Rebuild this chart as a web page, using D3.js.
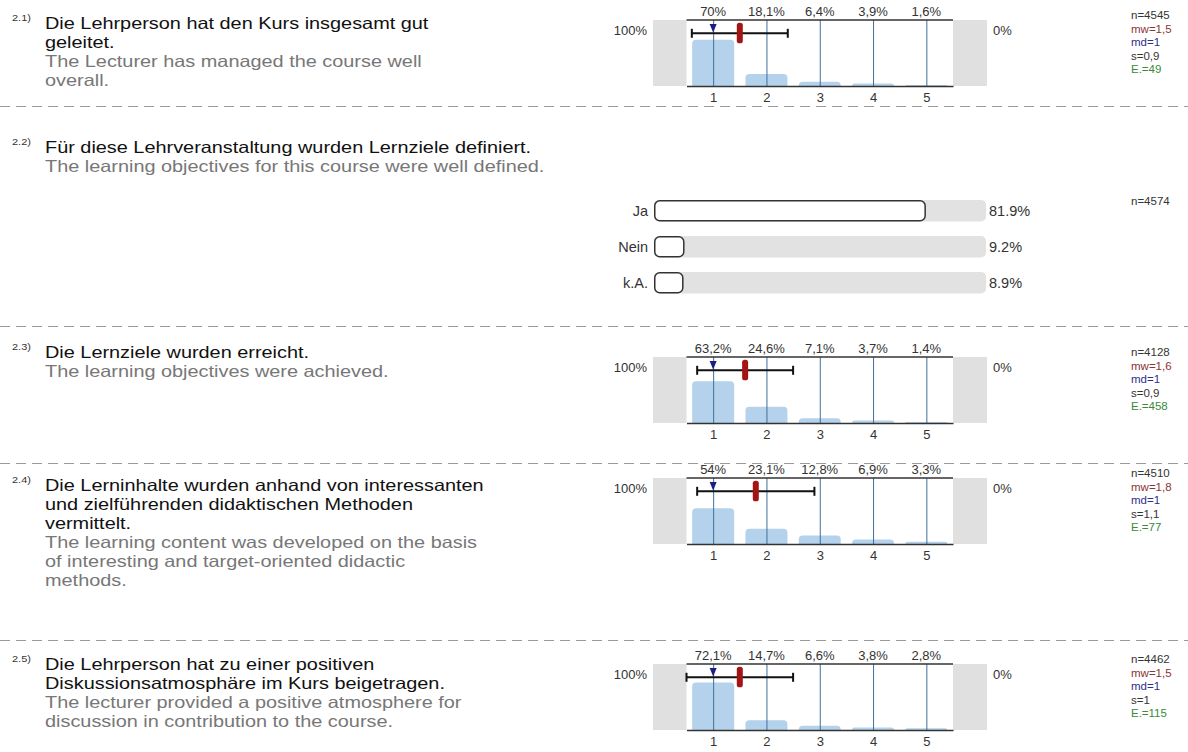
<!DOCTYPE html>
<html>
<head>
<meta charset="utf-8">
<script src="https://cdn.jsdelivr.net/npm/d3@7"></script>
<style>
  html, body { margin: 0; padding: 0; background: #fff; }
  svg { display: block; font-family: "Liberation Sans", Arial, sans-serif; }
</style>
</head>
<body>
<div class="canvas"></div>
<script>
const WIDTH = 1188;
const HEIGHT = 752;

// data
const questionIds = ['2.1)', '2.2)', '2.3)', '2.4)', '2.5)'];
const germanLines = [
  ['Die Lehrperson hat den Kurs insgesamt gut', 'geleitet.'],
  ['Für diese Lehrveranstaltung wurden Lernziele definiert.'],
  ['Die Lernziele wurden erreicht.'],
  ['Die Lerninhalte wurden anhand von interessanten', 'und zielführenden didaktischen Methoden', 'vermittelt.'],
  ['Die Lehrperson hat zu einer positiven', 'Diskussionsatmosphäre im Kurs beigetragen.']
];
const englishLines = [
  ['The Lecturer has managed the course well', 'overall.'],
  ['The learning objectives for this course were well defined.'],
  ['The learning objectives were achieved.'],
  ['The learning content was developed on the basis', 'of interesting and target-oriented didactic', 'methods.'],
  ['The lecturer provided a positive atmosphere for', 'discussion in contribution to the course.']
];

const scaleLabels = [1, 2, 3, 4, 5];
const ratingPercents = [
  [70, 18.1, 6.4, 3.9, 1.6],
  [63.2, 24.6, 7.1, 3.7, 1.4],
  [54, 23.1, 12.8, 6.9, 3.3],
  [72.1, 14.7, 6.6, 3.8, 2.8]
];
const ratingN = [4545, 4128, 4510, 4462];
const ratingMean = [1.5, 1.6, 1.8, 1.5];
const ratingMedian = [1, 1, 1, 1];
const ratingSd = [0.9, 0.9, 1.1, 1];
const ratingAbst = [49, 458, 77, 115];

const yesNoCategories = ['Ja', 'Nein', 'k.A.'];
const yesNoPercents = [81.9, 9.2, 8.9];
const yesNoN = 4574;

// layout
const textTops = [29, 153, 358, 491, 670];     // baseline of first text line per question
const ratingTops = [20, 357, 478, 664];        // top of each rating chart
const separators = [106, 326, 463, 640];
const lineStep = 19;
const textScale = 1.22;
const chartH = 66;

// colors
const black = '#111';
const gray = '#777';
const sideGray = '#e0e0e0';
const barBlue = '#b4d2eb';
const gridBlue = '#3d6f9c';
const meanRed = '#a31515';
const medianNavy = '#1c1c82';

const comma = v => String(v).replace('.', ',');

const svg = d3.select('.canvas')
  .append('svg')
    .attr('width', WIDTH)
    .attr('height', HEIGHT);

// separators
svg.selectAll('line.sep')
  .data(separators)
  .enter().append('line')
    .attr('class', 'sep')
    .attr('x1', 0).attr('x2', WIDTH)
    .attr('y1', d => d + 0.5).attr('y2', d => d + 0.5)
    .attr('stroke', '#9a9a9a')
    .attr('stroke-width', 1)
    .attr('stroke-dasharray', '10 6');

// question texts
questionIds.forEach((id, i) => {
  const top = textTops[i];

  svg.append('text')
    .attr('transform', `translate(12, ${top - 8}) scale(${textScale}, 1)`)
    .attr('font-size', 9)
    .attr('fill', '#333')
    .text(id);

  const g = svg.append('g')
    .attr('transform', `translate(45, ${top}) scale(${textScale}, 1)`)
    .attr('font-size', 16.3);

  const lines = germanLines[i].map(t => ({ t, c: black }))
    .concat(englishLines[i].map(t => ({ t, c: gray })));

  g.selectAll('text')
    .data(lines)
    .enter().append('text')
      .attr('x', 0)
      .attr('y', (d, k) => k * lineStep)
      .attr('fill', d => d.c)
      .text(d => d.t);
});

// rating charts
const x = d3.scaleLinear().domain([0.5, 5.5]).range([686.5, 953]);
const y = d3.scaleLinear().domain([0, 100]).range([chartH, 0]);

const topRounded = (x0, w, h, r) => {
  r = Math.min(r, h, w / 2);
  return `M${x0},${chartH}V${chartH - h + r}Q${x0},${chartH - h} ${x0 + r},${chartH - h}` +
    `H${x0 + w - r}Q${x0 + w},${chartH - h} ${x0 + w},${chartH - h + r}V${chartH}Z`;
};

ratingPercents.forEach((pcts, i) => {
  const graph = svg.append('g')
    .attr('transform', `translate(0, ${ratingTops[i]})`);

  // side blocks
  graph.append('rect')
    .attr('x', 653).attr('y', 0)
    .attr('width', x.range()[0] - 653).attr('height', chartH)
    .attr('fill', sideGray);
  graph.append('rect')
    .attr('x', x.range()[1]).attr('y', 0)
    .attr('width', 987 - x.range()[1]).attr('height', chartH)
    .attr('fill', sideGray);

  graph.append('text')
    .attr('x', 647).attr('y', 15)
    .attr('text-anchor', 'end')
    .attr('font-size', 13).attr('fill', '#333')
    .text('100%');
  graph.append('text')
    .attr('x', 993).attr('y', 15)
    .attr('font-size', 13).attr('fill', '#333')
    .text('0%');

  // bars
  const data = scaleLabels.map((k, j) => ({ k, p: pcts[j] }));
  const bw = 42;
  graph.selectAll('path.bar')
    .data(data)
    .enter().append('path')
      .attr('class', 'bar')
      .attr('fill', barBlue)
      .attr('d', d => topRounded(x(d.k) - bw / 2, bw, chartH - y(d.p), 4));

  // grid lines
  graph.selectAll('line.grid')
    .data(scaleLabels)
    .enter().append('line')
      .attr('class', 'grid')
      .attr('x1', d => x(d) + 0.5).attr('x2', d => x(d) + 0.5)
      .attr('y1', 0).attr('y2', chartH)
      .attr('stroke', gridBlue)
      .attr('stroke-width', 1);

  // top line
  graph.append('line')
    .attr('x1', x.range()[0]).attr('x2', x.range()[1])
    .attr('y1', 0).attr('y2', 0)
    .attr('stroke', '#333').attr('stroke-width', 1.5);

  // bottom axis
  const xAxis = d3.axisBottom(x)
    .tickValues(scaleLabels)
    .tickFormat(d3.format('d'))
    .tickSize(0)
    .tickSizeOuter(0)
    .tickPadding(7);
  const axisG = graph.append('g')
    .attr('transform', `translate(0, ${chartH})`)
    .call(xAxis);
  axisG.select('.domain').attr('stroke', '#333').attr('stroke-width', 1.5);
  axisG.selectAll('text')
    .attr('font-size', 13)
    .attr('font-family', '"Liberation Sans", Arial, sans-serif')
    .attr('fill', '#333');

  // percent labels above
  graph.selectAll('text.pct')
    .data(data)
    .enter().append('text')
      .attr('class', 'pct')
      .attr('x', d => x(d.k))
      .attr('y', -4)
      .attr('text-anchor', 'middle')
      .attr('font-size', 13)
      .attr('fill', '#333')
      .text(d => comma(d.p) + '%');

  // standard deviation bar
  const eY = 13.3;
  const lo = ratingMean[i] - ratingSd[i];
  const hi = ratingMean[i] + ratingSd[i];
  graph.append('line')
    .attr('x1', x(lo)).attr('x2', x(hi))
    .attr('y1', eY).attr('y2', eY)
    .attr('stroke', '#111').attr('stroke-width', 2);
  [lo, hi].forEach(v => {
    graph.append('line')
      .attr('x1', x(v)).attr('x2', x(v))
      .attr('y1', eY - 4.5).attr('y2', eY + 4.5)
      .attr('stroke', '#111').attr('stroke-width', 2);
  });

  // median triangle
  const mx = x(ratingMedian[i]);
  graph.append('path')
    .attr('d', `M${mx - 3.5},4L${mx + 3.5},4L${mx},12.5Z`)
    .attr('fill', medianNavy);

  // mean marker
  graph.append('rect')
    .attr('x', x(ratingMean[i]) - 3).attr('y', 2.7)
    .attr('width', 6).attr('height', 20.6)
    .attr('rx', 2.6)
    .attr('fill', meanRed);

  // stats
  const stats = [
    { t: `n=${ratingN[i]}`, c: '#333' },
    { t: `mw=${comma(ratingMean[i])}`, c: '#8c3434' },
    { t: `md=${comma(ratingMedian[i])}`, c: '#2e2e8a' },
    { t: `s=${comma(ratingSd[i])}`, c: '#333' },
    { t: `E.=${ratingAbst[i]}`, c: '#3a8a3a' }
  ];
  graph.selectAll('text.stat')
    .data(stats)
    .enter().append('text')
      .attr('class', 'stat')
      .attr('x', 1131)
      .attr('y', (d, k) => -1 + k * 13.5)
      .attr('font-size', 11.5)
      .attr('fill', d => d.c)
      .text(d => d.t);
});

// yes / no chart
const xh = d3.scaleLinear().domain([0, 100]).range([654, 986]);
const yh = d3.scaleBand()
  .domain(yesNoCategories)
  .range([200, 293.5])
  .paddingInner(0.403)
  .paddingOuter(0);

const yn = yesNoCategories.map((c, j) => ({ c, p: yesNoPercents[j] }));
const ynG = svg.append('g');

ynG.selectAll('rect.track')
  .data(yn)
  .enter().append('rect')
    .attr('class', 'track')
    .attr('x', xh(0)).attr('y', d => yh(d.c))
    .attr('width', xh(100) - xh(0)).attr('height', yh.bandwidth())
    .attr('rx', 5)
    .attr('fill', '#e2e2e2');

ynG.selectAll('rect.val')
  .data(yn)
  .enter().append('rect')
    .attr('class', 'val')
    .attr('x', xh(0) + 0.75).attr('y', d => yh(d.c) + 0.75)
    .attr('width', d => xh(d.p) - xh(0) - 1.5).attr('height', yh.bandwidth() - 1.5)
    .attr('rx', 5)
    .attr('fill', '#fff')
    .attr('stroke', '#333')
    .attr('stroke-width', 1.5);

ynG.selectAll('text.cat')
  .data(yn)
  .enter().append('text')
    .attr('class', 'cat')
    .attr('x', 648)
    .attr('y', d => yh(d.c) + yh.bandwidth() / 2)
    .attr('dy', '0.35em')
    .attr('text-anchor', 'end')
    .attr('font-size', 14.5)
    .attr('fill', '#333')
    .text(d => d.c);

ynG.selectAll('text.ynpct')
  .data(yn)
  .enter().append('text')
    .attr('class', 'ynpct')
    .attr('x', 989)
    .attr('y', d => yh(d.c) + yh.bandwidth() / 2)
    .attr('dy', '0.35em')
    .attr('font-size', 14.5)
    .attr('fill', '#333')
    .text(d => d.p.toFixed(1) + '%');

ynG.append('text')
  .attr('x', 1131).attr('y', 205)
  .attr('font-size', 11.5)
  .attr('fill', '#333')
  .text(`n=${yesNoN}`);
</script>
</body>
</html>
